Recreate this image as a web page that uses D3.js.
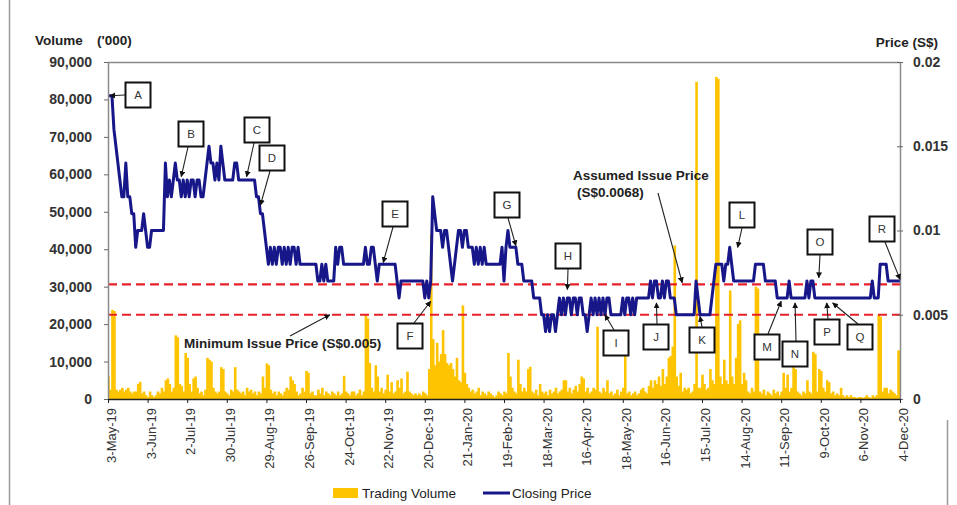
<!DOCTYPE html>
<html>
<head>
<meta charset="utf-8">
<script src="https://cdn.jsdelivr.net/npm/d3@7"></script>
<style>
  html, body { margin: 0; padding: 0; background: #fff; }
  svg { display: block; font-family: "Liberation Sans", Arial, sans-serif; }
</style>
</head>
<body>
<svg id="chart" width="957" height="505"></svg>
<script>
// Daily closing price (S$), one value per trading day, 3-May-19 .. 4-Dec-20
const closingPrice = [
  .018,.018,.018,.016,.015,.014,.013,.012,.012,.014,.012,.012,.011,.011,.009,.010,.010,.010,.011,.010,
  .009,.009,.010,.010,.010,.010,.010,.010,.010,.014,.012,.013,.012,.013,.014,.013,.013,.012,.013,.012,
  .013,.012,.013,.013,.012,.013,.013,.012,.012,.013,.014,.015,.014,.014,.013,.014,.013,.015,.014,.013,
  .013,.013,.013,.013,.014,.014,.013,.013,.013,.013,.013,.013,.013,.013,.013,.012,.012,.011,.011,.010,
  .009,.008,.009,.008,.009,.008,.009,.009,.008,.009,.008,.009,.008,.009,.009,.008,.009,.008,.008,.008,
  .008,.008,.008,.008,.008,.008,.007,.007,.008,.007,.008,.007,.007,.007,.007,.009,.008,.009,.009,.008,
  .008,.008,.008,.008,.008,.008,.008,.008,.008,.008,.009,.008,.008,.009,.009,.008,.007,.008,.008,.008,
  .008,.008,.008,.008,.008,.008,.007,.006,.007,.007,.007,.007,.007,.007,.007,.007,.007,.007,.007,.007,
  .006,.007,.006,.007,.012,.011,.010,.010,.010,.009,.010,.010,.009,.008,.007,.008,.009,.010,.010,.009,
  .010,.010,.009,.009,.009,.008,.009,.008,.009,.008,.009,.008,.008,.008,.008,.008,.008,.008,.008,.009,
  .007,.009,.010,.009,.009,.009,.009,.008,.008,.008,.007,.007,.007,.007,.007,.006,.006,.006,.006,.005,
  .005,.004,.005,.004,.005,.005,.004,.005,.006,.005,.006,.005,.006,.006,.005,.006,.006,.005,.006,.006,
  .005,.005,.004,.005,.006,.005,.006,.005,.006,.005,.006,.005,.006,.006,.005,.005,.005,.005,.005,.005,
  .006,.005,.006,.006,.005,.006,.005,.006,.006,.006,.006,.006,.006,.006,.007,.006,.007,.007,.006,.006,
  .007,.006,.007,.007,.006,.006,.006,.005,.005,.005,.005,.005,.005,.005,.005,.005,.005,.007,.006,.005,
  .005,.005,.005,.005,.005,.006,.007,.008,.008,.008,.008,.007,.008,.008,.009,.008,.007,.007,.007,.007,
  .007,.007,.007,.007,.007,.007,.007,.008,.008,.008,.008,.008,.007,.007,.007,.007,.007,.007,.006,.006,
  .006,.006,.006,.006,.007,.006,.006,.006,.006,.006,.006,.006,.006,.007,.006,.007,.007,.006,.006,.006,
  .006,.006,.006,.006,.006,.006,.006,.006,.006,.006,.006,.006,.006,.006,.006,.006,.006,.006,.006,.006,
  .006,.006,.006,.006,.006,.006,.007,.006,.006,.006,.008,.008,.008,.008,.007,.007,.007,.007,.007,.007,
  .007
];

// Daily trading volume ('000 shares)
const tradingVolume = [
  6.0,2.5,23.8,23.5,2.5,2.0,2.5,3.0,2.0,2.5,3.0,2.0,1.5,2.0,2.0,4.0,4.6,1.5,2.0,1.0,
  0.5,2.0,1.0,0.5,1.0,2.0,1.5,3.0,2.0,5.0,5.5,4.0,2.0,3.0,17.0,16.5,4.0,3.5,2.0,12.3,
  11.0,4.0,2.0,5.5,6.0,3.0,1.5,2.0,1.0,2.5,11.0,10.5,10.0,3.0,2.0,1.5,2.0,8.5,8.0,2.0,
  1.5,1.0,2.5,2.0,8.5,2.5,2.0,1.5,2.0,1.0,3.0,2.0,2.5,1.5,2.0,1.0,2.0,1.5,6.0,3.0,
  9.5,9.0,2.5,1.5,2.0,1.0,2.0,1.5,1.0,2.0,3.0,2.5,6.0,5.0,4.0,2.0,1.0,1.5,3.0,2.0,
  7.5,7.0,1.5,2.0,1.0,1.0,2.5,1.5,3.0,1.0,2.0,1.5,1.0,2.0,1.5,1.0,2.0,1.0,1.5,6.2,
  2.0,1.5,1.0,2.0,2.0,1.0,1.5,2.5,1.0,2.0,22.5,21.5,9.6,3.0,2.0,9.0,6.0,2.0,3.0,1.5,
  2.5,6.5,2.0,4.5,1.5,2.0,5.0,3.0,5.5,1.5,2.0,7.3,2.0,1.5,1.0,1.5,1.0,1.5,1.0,2.0,
  1.5,1.0,8.0,44.0,16.0,9.0,15.0,10.0,12.0,18.4,12.0,9.6,9.0,9.6,8.0,6.0,11.0,5.0,4.5,25.0,
  7.0,4.0,3.0,2.0,2.5,1.5,2.0,3.0,1.0,2.0,1.5,1.0,2.0,1.5,1.0,0.5,1.0,2.0,1.5,1.0,
  2.0,1.5,12.3,6.0,3.0,2.0,1.5,10.5,4.0,2.0,3.0,2.0,8.0,8.6,2.0,1.5,2.5,1.0,4.0,2.0,
  1.5,2.0,1.0,2.5,1.5,2.0,3.0,1.5,2.0,2.5,5.0,5.0,2.0,3.0,1.5,2.5,3.5,2.0,4.0,6.0,
  5.5,2.0,3.0,1.5,2.0,3.0,2.5,19.3,2.0,1.5,3.0,2.0,5.0,1.5,2.0,1.0,1.5,2.5,1.0,2.0,
  3.0,14.0,1.5,2.0,1.0,1.5,2.0,1.0,1.5,2.5,3.0,2.0,1.5,3.5,5.0,3.0,5.0,4.0,6.0,3.5,
  8.0,4.0,6.0,11.0,11.5,14.0,41.0,6.0,3.5,7.0,2.0,3.0,2.5,3.0,1.5,2.0,4.0,84.7,3.0,3.0,
  6.5,4.0,2.5,3.0,8.0,5.0,4.0,86.0,85.5,6.0,4.0,10.5,5.0,4.0,29.0,6.0,4.0,11.0,20.0,21.0,
  4.0,7.0,5.0,2.0,1.5,3.0,2.0,30.0,29.5,2.0,1.5,2.5,1.0,2.0,1.5,1.0,2.5,1.5,2.0,1.0,
  2.0,7.0,3.0,6.5,2.0,3.0,9.0,8.0,2.0,1.5,1.0,2.0,1.5,5.0,2.0,1.5,12.6,12.0,2.0,8.0,
  7.5,3.0,2.0,5.0,4.5,1.5,2.0,1.0,1.5,1.0,3.0,1.0,0.5,1.0,0.5,1.0,0.5,0.5,0.3,0.5,
  0.5,0.3,0.5,1.0,0.5,0.3,1.0,0.5,1.0,22.5,22.0,2.0,3.0,3.0,1.5,2.5,2.0,1.5,1.0,13.0,
  13.0
];

// Date labels, one every 20 trading days
const dateLabels = [
  "3-May-19","3-Jun-19","2-Jul-19","30-Jul-19","29-Aug-19","26-Sep-19","24-Oct-19",
  "22-Nov-19","20-Dec-19","21-Jan-20","19-Feb-20","18-Mar-20","16-Apr-20","18-May-20",
  "16-Jun-20","15-Jul-20","14-Aug-20","11-Sep-20","9-Oct-20","6-Nov-20","4-Dec-20"
];
const labelEvery = 20;

const volumeTicks = [0,10000,20000,30000,40000,50000,60000,70000,80000,90000];
const priceTicks = [0,0.005,0.01,0.015,0.02];

// Reference prices
const minimumIssuePrice = 0.005;
const assumedIssuePrice = 0.0068;

// Callout letters: trading day and price they point at
const calloutLetters = ["A","B","C","D","E","F","G","H","I","J","K","L","M","N","O","P","Q","R"];
const calloutDays    = [1,37,70,77,139,163,206,232,251,277,299,318,340,347,359,363,366,400];
const calloutPrices  = [.018,.0132,.0132,.0115,.0081,.0058,.0091,.0065,.005,.0057,.0049,.009,.0058,.0057,.0072,.0057,.0057,.0071];

// ---- layout ----
const W = 957, H = 505;
const plot = { left: 108, right: 900, top: 62, bottom: 399 };
const FONT = '"Liberation Sans", Arial, sans-serif';
const TEXT = "#333";

// box centre and the point on the box edge where the leader starts
const calloutLayout = {
  A: { cx: 138, cy: 95,  sx: 125, sy: 95 },
  B: { cx: 191, cy: 134, sx: 188, sy: 147 },
  C: { cx: 257, cy: 130, sx: 254, sy: 143 },
  D: { cx: 272, cy: 158, sx: 270, sy: 171 },
  E: { cx: 395, cy: 214, sx: 393, sy: 227 },
  F: { cx: 410, cy: 336, sx: 414, sy: 323 },
  G: { cx: 507, cy: 205, sx: 508, sy: 218 },
  H: { cx: 568, cy: 256, sx: 568, sy: 269 },
  I: { cx: 616, cy: 343, sx: 614, sy: 330 },
  J: { cx: 656, cy: 337, sx: 657, sy: 324 },
  K: { cx: 702, cy: 340, sx: 702, sy: 327 },
  L: { cx: 742, cy: 215, sx: 742, sy: 228 },
  M: { cx: 767, cy: 347, sx: 768, sy: 334 },
  N: { cx: 795, cy: 354, sx: 796, sy: 341 },
  O: { cx: 820, cy: 242, sx: 820, sy: 255 },
  P: { cx: 827, cy: 332, sx: 828, sy: 319 },
  Q: { cx: 860, cy: 337, sx: 858, sy: 324 },
  R: { cx: 882, cy: 229, sx: 885, sy: 242 }
};
const BOX = 25;

const svg = d3.select("#chart");

// page frame
svg.append("line").attr("x1", 9.5).attr("x2", 9.5).attr("y1", 0).attr("y2", H)
  .attr("stroke", "#9a9a9a").attr("stroke-width", 1.5);
svg.append("line").attr("x1", 947.5).attr("x2", 947.5).attr("y1", 420).attr("y2", H)
  .attr("stroke", "#9a9a9a").attr("stroke-width", 1.5);

const x = d3.scaleLinear().domain([0, closingPrice.length - 1]).range([plot.left, plot.right]);
const yVol = d3.scaleLinear().domain([0, 90000]).range([plot.bottom, plot.top]);
const yPrice = d3.scaleLinear().domain([0, 0.02]).range([plot.bottom, plot.top]);

const defs = svg.append("defs");
defs.append("clipPath").attr("id", "plotClip").append("rect")
  .attr("x", plot.left).attr("y", plot.top)
  .attr("width", plot.right - plot.left).attr("height", plot.bottom - plot.top);
defs.append("marker").attr("id", "arrowHead")
  .attr("viewBox", "0 0 10 10").attr("refX", 9).attr("refY", 5)
  .attr("markerWidth", 6).attr("markerHeight", 6).attr("orient", "auto-start-reverse")
  .attr("markerUnits", "userSpaceOnUse")
  .append("path").attr("d", "M0,0 L10,5 L0,10 z").attr("fill", "#111");

// plot-area top border
svg.append("line").attr("x1", plot.left).attr("x2", plot.right)
  .attr("y1", plot.top + 0.5).attr("y2", plot.top + 0.5)
  .attr("stroke", "#8a8a8a").attr("stroke-width", 1.5);

// volume bars
const barW = 2.6;
svg.append("g").attr("clip-path", "url(#plotClip)")
  .selectAll("rect").data(tradingVolume).join("rect")
  .attr("x", (d, i) => x(i) - barW / 2 + 0.5)
  .attr("y", d => yVol(d * 1000))
  .attr("width", barW)
  .attr("height", d => yVol(0) - yVol(d * 1000))
  .attr("fill", "#FFC400");

// reference price lines
[assumedIssuePrice, minimumIssuePrice].forEach(p => {
  svg.append("line")
    .attr("x1", plot.left).attr("x2", plot.right)
    .attr("y1", yPrice(p)).attr("y2", yPrice(p))
    .attr("stroke", "#E8202A").attr("stroke-width", 2.2)
    .attr("stroke-dasharray", "9,5");
});

// closing price line
svg.append("path")
  .datum(closingPrice)
  .attr("fill", "none")
  .attr("stroke", "#17178A")
  .attr("stroke-width", 3)
  .attr("stroke-linejoin", "round")
  .attr("d", d3.line().x((d, i) => x(i)).y(d => yPrice(d)));

// left axis (volume)
const gL = svg.append("g").attr("transform", `translate(${plot.left},0)`)
  .call(d3.axisLeft(yVol).tickValues(volumeTicks).tickFormat(d3.format(",")).tickSize(4).tickSizeOuter(0));
gL.select(".domain").attr("stroke", "#8a8a8a").attr("stroke-width", 1.5);
gL.selectAll(".tick line").attr("stroke", "#666");
gL.selectAll(".tick text").attr("x", -16).attr("font-size", 14).attr("font-family", FONT)
  .attr("fill", TEXT).attr("font-weight", "bold");

// right axis (price)
const gR = svg.append("g").attr("transform", `translate(${plot.right},0)`)
  .call(d3.axisRight(yPrice).tickValues(priceTicks)
    .tickFormat(d => d === 0 ? "0" : String(+d.toFixed(3))).tickSize(3).tickSizeOuter(0));
gR.select(".domain").attr("stroke", "#8a8a8a").attr("stroke-width", 1.5);
gR.selectAll(".tick line").attr("x1", -3).attr("stroke", "#666");
gR.selectAll(".tick text").attr("x", 13).attr("font-size", 14).attr("font-family", FONT)
  .attr("fill", TEXT).attr("font-weight", "bold");

// bottom axis (dates)
const tickIdx = dateLabels.map((_, k) => k * labelEvery);
const gB = svg.append("g").attr("transform", `translate(0,${plot.bottom})`)
  .call(d3.axisBottom(x).tickValues(tickIdx).tickFormat((d, k) => dateLabels[k]).tickSize(4).tickSizeOuter(0));
gB.select(".domain").attr("stroke", "#222").attr("stroke-width", 1.5);
gB.selectAll(".tick line").attr("stroke", "#222");
gB.selectAll(".tick text")
  .attr("font-size", 13).attr("font-family", FONT).attr("fill", TEXT)
  .attr("text-anchor", "end")
  .attr("transform", "rotate(-90)")
  .attr("x", -9).attr("y", 3).attr("dy", "0.35em");

// axis titles
const title = (t, px, py, anchor) => svg.append("text").text(t)
  .attr("x", px).attr("y", py).attr("text-anchor", anchor || "start")
  .attr("font-size", 13.5).attr("font-weight", "bold").attr("font-family", FONT).attr("fill", "#222");
title("Volume", 35, 45);
title("('000)", 97, 45);
title("Price (S$)", 938, 47, "end");

// leader arrow helper
const arrow = (x1, y1, x2, y2) => svg.append("line")
  .attr("x1", x1).attr("y1", y1).attr("x2", x2).attr("y2", y2)
  .attr("stroke", "#222").attr("stroke-width", 1.1)
  .attr("marker-end", "url(#arrowHead)");

// reference-price notes
const note = (lines, px, py) => lines.forEach((t, k) => svg.append("text").text(t)
  .attr("x", px + (k ? 4 : 0)).attr("y", py + k * 17)
  .attr("font-size", 13.5).attr("font-weight", "bold").attr("font-family", FONT).attr("fill", "#222"));
note(["Minimum Issue Price (S$0.005)"], 184, 348);
arrow(290, 336, x(112), yPrice(minimumIssuePrice));
note(["Assumed Issue Price", "(S$0.0068)"], 573, 180);
arrow(658, 193, x(290), yPrice(0.0069));

// lettered callouts
calloutLetters.forEach((L, k) => {
  const b = calloutLayout[L];
  arrow(b.sx, b.sy, x(calloutDays[k]), yPrice(calloutPrices[k]));
});
calloutLetters.forEach(L => {
  const b = calloutLayout[L];
  svg.append("rect")
    .attr("x", b.cx - BOX / 2).attr("y", b.cy - BOX / 2)
    .attr("width", BOX).attr("height", BOX)
    .attr("fill", "#fff").attr("stroke", "#111").attr("stroke-width", 2);
  svg.append("text").text(L)
    .attr("x", b.cx).attr("y", b.cy).attr("dy", "0.36em")
    .attr("text-anchor", "middle").attr("font-size", 11.5)
    .attr("font-family", FONT).attr("fill", TEXT);
});

// legend
const legY = 493;
svg.append("rect").attr("x", 333).attr("y", legY - 5).attr("width", 25).attr("height", 10).attr("fill", "#FFC400");
svg.append("text").text("Trading Volume").attr("x", 362).attr("y", legY).attr("dy", "0.35em")
  .attr("font-size", 13.5).attr("font-family", FONT).attr("fill", "#222");
svg.append("line").attr("x1", 483).attr("x2", 510).attr("y1", legY).attr("y2", legY)
  .attr("stroke", "#17178A").attr("stroke-width", 3);
svg.append("text").text("Closing Price").attr("x", 512).attr("y", legY).attr("dy", "0.35em")
  .attr("font-size", 13.5).attr("font-family", FONT).attr("fill", "#222");
</script>
</body>
</html>
